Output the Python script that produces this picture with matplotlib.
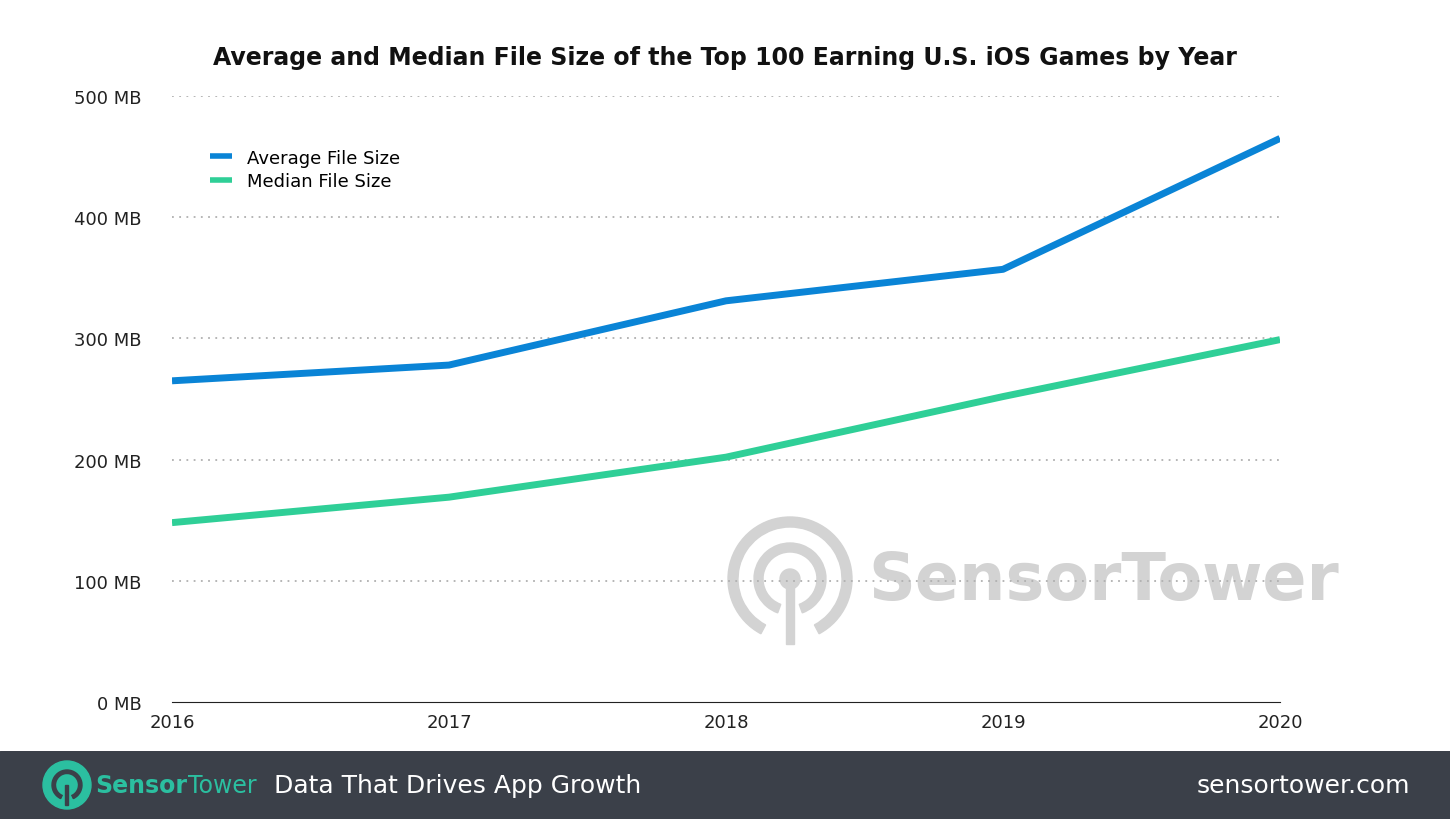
import matplotlib.pyplot as plt
from matplotlib.patches import Rectangle, Circle, Wedge

years = [2016, 2017, 2018, 2019, 2020]
avg_size = [265, 278, 331, 357, 465]
median_size = [148, 169, 202, 252, 299]
y_ticks = [0, 100, 200, 300, 400, 500]
y_labels = ['%d MB' % v for v in y_ticks]

W, H = 1450, 820
fig = plt.figure(figsize=(14.5, 8.2), dpi=100)

# watermark (drawn behind the chart)
wm = '#d3d3d3'
wax = fig.add_axes([720/W, 1 - 650/H, 1 - 720/W, 140/H], zorder=0)
wax.set_xlim(0, 730)
wax.set_ylim(0, 140)
wax.axis('off')
wax.add_patch(Wedge((70, 70), 62, -62, 242, width=10, color=wm))
wax.add_patch(Wedge((70, 70), 36, -70, 250, width=9, color=wm))
wax.add_patch(Circle((70, 70), 10, color=wm))
wax.add_patch(Rectangle((66, 5), 8, 65, color=wm))
wax.text(148, 68, 'SensorTower', color=wm, fontsize=47, ha='left', va='center',
         fontweight='semibold')

ax = fig.add_axes([172/W, 117/H, 1108/W, 606/H], zorder=1)
ax.plot(years, avg_size, color='#0a84d6', lw=5, label='Average File Size', solid_capstyle='butt')
ax.plot(years, median_size, color='#2fcf97', lw=5, label='Median File Size', solid_capstyle='butt')

ax.set_xlim(2016, 2020)
ax.set_ylim(0, 500)
ax.set_xticks(years)
ax.set_yticks(y_ticks)
ax.set_yticklabels(y_labels)
ax.tick_params(length=0, labelsize=13, colors='#222222')
ax.tick_params(axis='x', pad=8)
ax.tick_params(axis='y', pad=22)
for v in y_ticks[1:]:
    ax.axhline(v, color='#b0b0b0', ls=(0, (1, 3)), lw=1.3, zorder=0)
for s in ['top', 'right', 'left']:
    ax.spines[s].set_visible(False)
ax.spines['bottom'].set_color('#222222')
ax.patch.set_alpha(0)

leg = ax.legend(loc='upper left', bbox_to_anchor=(0.02, 0.94), frameon=False,
                fontsize=13, handlelength=1.2, handletextpad=0.8, labelspacing=0.3)
for line in leg.get_lines():
    line.set_linewidth(4)

fig.text(725/W, 1 - 58/H, 'Average and Median File Size of the Top 100 Earning U.S. iOS Games by Year',
         ha='center', va='center', fontsize=17, fontweight='bold', color='#111111')

# footer
bar = fig.add_axes([0, 0, 1, 68/H], zorder=2)
bar.set_xlim(0, W)
bar.set_ylim(0, 68)
bar.axis('off')
bar.add_patch(Rectangle((0, 0), W, 68, color='#3b4049'))
bar.add_patch(Circle((67, 34), 24, color='#2bbfa0'))
bar.add_patch(Wedge((67, 34), 15, -65, 245, width=3.5, color='#3b4049'))
bar.add_patch(Rectangle((65.5, 14), 3, 20, color='#3b4049'))
t1 = bar.text(95, 34, 'Sensor', color='#2bbfa0', fontsize=17, fontweight='bold',
              ha='left', va='center')
bar.annotate('Tower', xy=(1, 0.5), xycoords=t1, xytext=(1, 0), textcoords='offset points',
             color='#2bbfa0', fontsize=17, ha='left', va='center')
bar.text(274, 34, 'Data That Drives App Growth', color='white', fontsize=18,
         ha='left', va='center')
bar.text(1410, 34, 'sensortower.com', color='white', fontsize=18,
         ha='right', va='center')

fig.savefig('out.png', dpi=100)
